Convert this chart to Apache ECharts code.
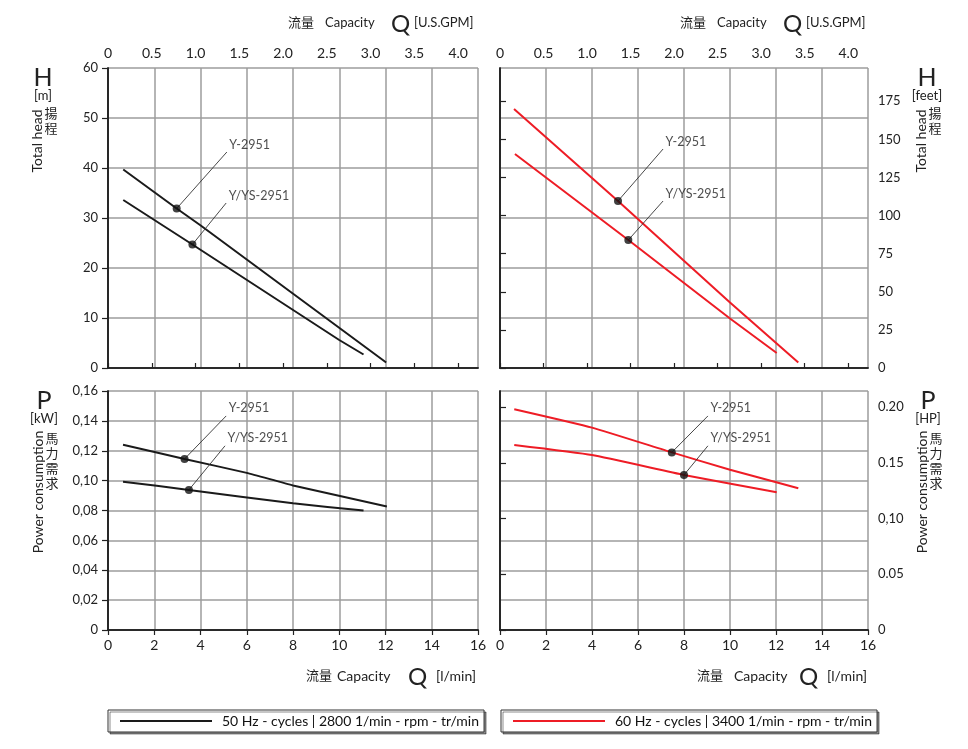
<!DOCTYPE html>
<html>
<head>
<meta charset="utf-8">
<script src="https://cdn.jsdelivr.net/npm/echarts@6/dist/echarts.min.js"></script>
<style>html,body{margin:0;padding:0;background:#fff}#c{width:968px;height:749px}</style>
</head>
<body>
<div id="c"></div>
<script>
// ---------- DATA ----------
const LEG50 = '50 Hz - cycles | 2800 1/min - rpm - tr/min';
const LEG60 = '60 Hz - cycles | 3400 1/min - rpm - tr/min';
const MODEL_A = 'Y-2951';
const MODEL_B = 'Y/YS-2951';

// Q [l/min], H [m]
const head50_Y   = [[0.66,39.7],[2.97,31.9],[3.98,28.6],[10.04,7.9],[12.03,1.1]];
const head50_YYS = [[0.66,33.6],[3.65,24.7],[3.98,23.7],[10.0,5.6],[11.05,2.7]];
const head60_Y   = [[0.61,51.8],[5.13,33.4],[10.0,13.1],[12.97,1.1]];
const head60_YYS = [[0.65,42.8],[5.58,25.6],[10.0,9.9],[12.03,3.0]];
// Q [l/min], P [kW]
const power50_Y   = [[0.65,0.124],[3.31,0.1145],[6.0,0.1052],[8.0,0.0968],[12.06,0.0827]];
const power50_YYS = [[0.65,0.0993],[3.5,0.0938],[8.0,0.0848],[11.05,0.080]];
const power60_Y   = [[0.62,0.1478],[4.0,0.1355],[7.47,0.1189],[10.0,0.1073],[12.97,0.0949]];
const power60_YYS = [[0.62,0.1238],[4.0,0.1171],[8.0,0.1038],[12.03,0.0922]];

// marked points [Q, value] and label anchors [Q, value]
const dots50H = [[2.97,31.9],[3.65,24.7]];
const tags50H = [[5.14,43.2],[5.11,33.0]];
const dots60H = [[5.13,33.4],[5.58,25.6]];
const tags60H = [[7.09,43.8],[7.09,33.4]];
const dots50P = [[3.31,0.1145],[3.5,0.0938]];
const tags50P = [[5.11,0.1433],[5.06,0.1233]];
const dots60P = [[7.47,0.1189],[8.0,0.1038]];
const tags60P = [[9.04,0.1433],[9.04,0.1233]];

// axes
const LPM_MAX = 16, LPM_STEP = 2;
const H_MAX = 60, H_STEP = 10;
const P_MAX = 0.16, P_STEP = 0.02;
const LPM_PER_GPM = 3.78541, M_PER_FT = 0.3048, KW_PER_HP = 0.7457;
const gpmTicks = [0,0.5,1,1.5,2,2.5,3,3.5,4];
const gpmTickLabels = ['0','0.5','1.0','1.5','2.0','2.5','3.0','3.5','4.0'];
const feetTicks = [0,25,50,75,100,125,150,175];
const hpTicks = [0,0.05,0.1,0.15,0.2];
const hpTickLabels = ['0','0.05','0,10','0.15','0.20'];

// ---------- STYLE ----------
const FONT = 'Lato, "Noto Sans CJK SC", sans-serif';
const BLACK = '#1a1a1a', RED = '#ee1c25', GRID = '#9c9c9c', FRAME = '#222';
const chart = echarts.init(document.getElementById('c'), null, {renderer:'canvas'});

const frameLine = () => ({show:true, lineStyle:{color:FRAME, width:1.6}});
const split = () => ({show:true, lineStyle:{color:GRID, width:1.5, type:'solid'}});
const lbl = {color:'#222', fontFamily:FONT, fontSize:13};

function xBottom(gi, labels){
  return {type:'value', gridIndex:gi, position:'bottom', min:0, max:LPM_MAX, interval:LPM_STEP,
    axisLine:frameLine(), splitLine:split(),
    axisTick:{show:labels, inside:false, length:labels?5:0, lineStyle:{color:FRAME, width:1.2}},
    axisLabel:Object.assign({show:labels, margin:8}, lbl, {fontSize:14})};
}
function xTopGpm(gi){
  return {type:'value', gridIndex:gi, position:'top', min:0, max:LPM_MAX/LPM_PER_GPM,
    axisLine:frameLine(), splitLine:{show:false},
    axisTick:{show:true, length:5, customValues:gpmTicks, lineStyle:{color:FRAME, width:1.2}},
    axisLabel:Object.assign({show:true, margin:8, customValues:gpmTicks,
      formatter:v=>gpmTickLabels[gpmTicks.findIndex(t=>Math.abs(t-v)<1e-6)] ?? ''}, lbl, {fontSize:14})};
}
function xTopPlain(gi){
  return {type:'value', gridIndex:gi, position:'top', min:0, max:LPM_MAX,
    axisLine:frameLine(), splitLine:{show:false}, axisTick:{show:false, length:0}, axisLabel:{show:false}};
}
function yLeft(gi, max, step, labels, fmt){
  return {type:'value', gridIndex:gi, position:'left', min:0, max:max, interval:step,
    axisLine:frameLine(), splitLine:split(),
    axisTick:{show:labels, length:labels?6:0, lineStyle:{color:FRAME, width:1.2}},
    axisLabel:Object.assign({show:labels, margin:10, formatter:fmt}, lbl)};
}
function yRightPlain(gi, max){
  return {type:'value', gridIndex:gi, position:'right', min:0, max:max,
    axisLine:frameLine(), splitLine:{show:false}, axisTick:{show:false, length:0}, axisLabel:{show:false}};
}
function yRightCustom(gi, max, ticks, labels){
  return {type:'value', gridIndex:gi, position:'right', min:0, max:max,
    axisLine:frameLine(), splitLine:{show:false},
    axisTick:{show:true, length:6, customValues:ticks, lineStyle:{color:FRAME, width:1.2}},
    axisLabel:Object.assign({show:true, margin:10, customValues:ticks,
      formatter:v=>labels ? (labels[ticks.findIndex(t=>Math.abs(t-v)<1e-9)] ?? '') : String(v)}, lbl)};
}

const series = [];
function curve(name, xi, yi, data, color, smooth){
  series.push({type:'line', name:name, xAxisIndex:xi, yAxisIndex:yi, data:data,
    symbol:'none', smooth:smooth, lineStyle:{color:color, width:2}, itemStyle:{color:color},
    z:3, silent:true, animation:false});
}
function annot(xi, yi, dots, tags){
  const names = [MODEL_A, MODEL_B];
  dots.forEach((d,i)=>{
    series.push({type:'line', name:'leader', xAxisIndex:xi, yAxisIndex:yi,
      data:[d, tags[i]], symbol:'none', lineStyle:{color:'#333', width:0.9}, z:4, silent:true, animation:false});
  });
  series.push({type:'scatter', name:'dots', xAxisIndex:xi, yAxisIndex:yi, data:dots,
    symbolSize:8, itemStyle:{color:'#111'}, z:6, silent:true, animation:false});
  series.push({type:'scatter', name:'tags', xAxisIndex:xi, yAxisIndex:yi,
    data:tags.map((t,i)=>({value:t, label:{formatter:names[i]}})),
    symbolSize:1, itemStyle:{color:'rgba(0,0,0,0)'}, z:6, silent:true, animation:false,
    label:{show:true, position:[3,-7], align:'left', verticalAlign:'middle',
      color:'#222', fontFamily:FONT, fontSize:12.5}});
}

curve(LEG50, 0, 0, head50_Y, BLACK, false);
curve(LEG50, 0, 0, head50_YYS, BLACK, false);
curve(LEG60, 2, 2, head60_Y, RED, false);
curve(LEG60, 2, 2, head60_YYS, RED, false);
curve(LEG50, 4, 4, power50_Y, BLACK, 0.15);
curve(LEG50, 4, 4, power50_YYS, BLACK, 0.15);
curve(LEG60, 6, 6, power60_Y, RED, 0.15);
curve(LEG60, 6, 6, power60_YYS, RED, 0.15);
annot(0, 0, dots50H, tags50H);
annot(2, 2, dots60H, tags60H);
annot(4, 4, dots50P, tags50P);
annot(6, 6, dots60P, tags60P);

const kwFmt = v => v===0 ? '0' : v.toFixed(2).replace('.', ',');

// text helpers
function T(x, y, text, size, opt){
  return Object.assign({type:'text', x:x, y:y, silent:true,
    style:Object.assign({text:text, fill:'#222', font: size+'px '+FONT, align:'left', verticalAlign:'middle'}, (opt&&opt.style)||{})},
    opt ? {rotation: opt.rotation||0} : {});
}
function qTitle(x0, xCap, xQ, xU, y, unit, fs){
  return [T(x0, y, '流量', 13), T(xCap, y, 'Capacity', fs), T(xQ, y+1, 'Q', 24), T(xU, y, unit, fs)];
}
function sideLabel(cx, letter, unit, rotText, cjk, yL, yU, yR, cjkY){
  return [
    T(cx, yL, letter, 25, {style:{align:'center'}}),
    T(cx, yU, unit, 13, {style:{align:'center'}}),
    T(cx-6, yR, rotText, 14, {rotation:Math.PI/2, style:{align:'center'}}),
    T(cx+8, cjkY, cjk.split('').join('\n'), 13, {style:{align:'center', verticalAlign:'top', lineHeight:15}})
  ];
}

const graphic = [].concat(
  qTitle(288, 325, 391, 414, 23, '[U.S.GPM]', 13),
  qTitle(680, 717, 783, 806, 23, '[U.S.GPM]', 13),
  qTitle(306, 337, 408, 436, 676, '[l/min]', 14),
  qTitle(697, 734, 799, 827, 676, '[l/min]', 14),
  sideLabel(43, 'H', '[m]', 'Total head', '揚程', 78, 96, 141, 106),
  sideLabel(927, 'H', '[feet]', 'Total head', '揚程', 78, 96, 141, 106),
  sideLabel(44, 'P', '[kW]', 'Power consumption', '馬力需求', 401, 419, 492, 431),
  sideLabel(928, 'P', '[HP]', 'Power consumption', '馬力需求', 401, 419, 492, 431)
);

function legendBox(name, left){
  return {data:[name], left:left, top:710, orient:'horizontal', icon:'rect',
    itemWidth:92, itemHeight:2, itemGap:0, padding:[4,5,4,12], selectedMode:false,
    borderColor:'#333', borderWidth:1, backgroundColor:'#fff',
    shadowColor:'rgba(0,0,0,0.45)', shadowBlur:0, shadowOffsetX:2, shadowOffsetY:2,
    textStyle:{fontSize:14, fontFamily:FONT, color:'#111', padding:[0,0,0,5]}};
}

chart.setOption({
  animation:false,
  backgroundColor:'#fff',
  textStyle:{fontFamily:FONT},
  grid:[
    {left:108, top:68, width:370, height:300},
    {left:500, top:68, width:368, height:300},
    {left:108, top:391, width:370, height:239},
    {left:500, top:391, width:368, height:239}
  ],
  xAxis:[
    xBottom(0,false), xTopGpm(0),
    xBottom(1,false), xTopGpm(1),
    xBottom(2,true),  xTopPlain(2),
    xBottom(3,true),  xTopPlain(3)
  ],
  yAxis:[
    yLeft(0, H_MAX, H_STEP, true, v=>String(v)), yRightPlain(0, H_MAX),
    yLeft(1, H_MAX, H_STEP, false), yRightCustom(1, H_MAX/M_PER_FT, feetTicks, null),
    yLeft(2, P_MAX, P_STEP, true, kwFmt), yRightPlain(2, P_MAX),
    yLeft(3, P_MAX, P_STEP, false), yRightCustom(3, P_MAX/KW_PER_HP, hpTicks, hpTickLabels)
  ],
  legend:[legendBox(LEG50, 108), legendBox(LEG60, 501)],
  graphic:graphic,
  series:series
});
</script>
</body>
</html>
